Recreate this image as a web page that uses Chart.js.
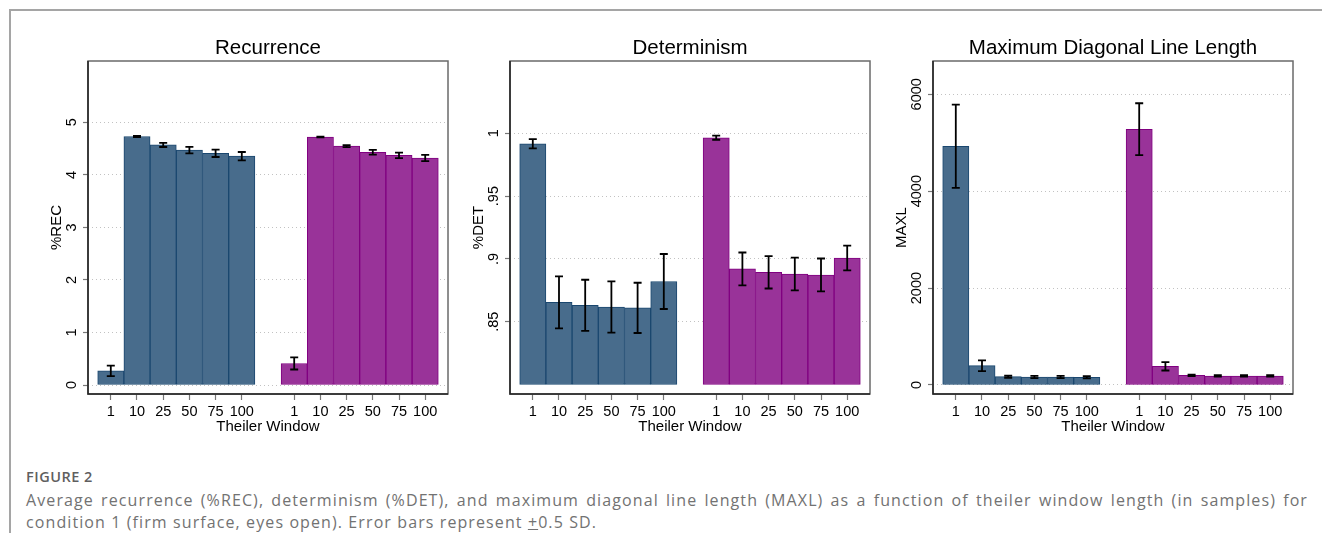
<!DOCTYPE html>
<html lang="en">
<head>
  <meta charset="UTF-8">
  <title>Figure 2 - Theiler window</title>
  <script src="https://cdn.jsdelivr.net/npm/chart.js"></script>
  <style>
    body { margin: 0; width: 1322px; height: 541px; background: #fff; position: relative; overflow: hidden; }
    .frame { position: absolute; left: 9px; top: 9px; width: 1320px; height: 522px;
             border-left: 2px solid #a5a5a5; border-top: 2px solid #a5a5a5; }
    canvas { position: absolute; top: 30px; }
    #recChart { left: 28px; }
    #detChart { left: 450px; }
    #maxlChart { left: 873px; }
    .caption { position: absolute; left: 26px; width: 1282px; font-family: "Open Sans", sans-serif; color: #727272; }
    .fig { top: 468px; font-size: 14.5px; font-weight: 600; color: #5f5f5f; line-height: 18px; letter-spacing: 0.5px; }
    .l1 { top: 489px; font-size: 16px; line-height: 22px; letter-spacing: 1.1px; text-align: justify; text-align-last: justify; white-space: nowrap; }
    .l2 { top: 511px; font-size: 16px; line-height: 22px; letter-spacing: 1.1px; white-space: nowrap; }
  </style>
</head>
<body>
  <div class="frame"></div>
  <canvas id="recChart" width="422" height="410"></canvas>
  <canvas id="detChart" width="422" height="410"></canvas>
  <canvas id="maxlChart" width="422" height="410"></canvas>

  <div class="caption fig">FIGURE 2</div>
  <div class="caption l1">Average recurrence (%REC), determinism (%DET), and maximum diagonal line length (MAXL) as a function of theiler window length (in samples) for</div>
  <div class="caption l2">condition 1 (firm surface, eyes open). Error bars represent <u>+</u>0.5 SD.</div>

  <script>
    // x positions: two groups of six bars with an empty slot between them
    const windowLabels = ['1', '10', '25', '50', '75', '100'];
    const blueSlots = [0, 1, 2, 3, 4, 5];
    const purpleSlots = [7, 8, 9, 10, 11, 12];

    // Recurrence
    const recBlue = [0.27, 4.73, 4.57, 4.47, 4.41, 4.355];
    const recBlueErr = [0.10, 0.01, 0.04, 0.063, 0.07, 0.08];
    const recPurple = [0.41, 4.72, 4.546, 4.43, 4.37, 4.32];
    const recPurpleErr = [0.115, 0.006, 0.02, 0.045, 0.053, 0.06];
    const recTicks = [0, 1, 2, 3, 4, 5];
    const recTickLabels = ['0', '1', '2', '3', '4', '5'];

    // Determinism
    const detBlue = [0.9917, 0.8654, 0.863, 0.8617, 0.861, 0.882];
    const detBlueErr = [0.0037, 0.0207, 0.0204, 0.0204, 0.020, 0.0219];
    const detPurple = [0.9965, 0.892, 0.8893, 0.888, 0.8872, 0.9007];
    const detPurpleErr = [0.0016, 0.0131, 0.0129, 0.013, 0.0131, 0.0098];
    const detTicks = [0.85, 0.9, 0.95, 1];
    const detTickLabels = ['.85', '.9', '.95', '1'];

    // Maximum diagonal line length
    const maxlBlue = [4928, 398, 171, 165, 165, 160];
    const maxlBlueErr = [859, 110, 22, 25, 22, 22];
    const maxlPurple = [5279, 385, 200, 186, 186, 186];
    const maxlPurpleErr = [536, 86, 15, 15, 15, 15];
    const maxlTicks = [0, 2000, 4000, 6000];
    const maxlTickLabels = ['0', '2000', '4000', '6000'];

    const blueFill = 'rgb(72,108,140)', blueLine = 'rgb(26,71,111)';
    const purpleFill = 'rgb(153,51,153)', purpleLine = 'rgb(128,0,128)';
    const FONT = '"Liberation Sans", Arial, sans-serif';

    const panels = {
      recChart: { title: 'Recurrence', yTitle: '%REC', min: -0.171, max: 6.167, base: 0,
                  blue: recBlue, blueErr: recBlueErr, purple: recPurple, purpleErr: recPurpleErr,
                  ticks: recTicks, tickLabels: recTickLabels },
      detChart: { title: 'Determinism', yTitle: '%DET', min: 0.7924, max: 1.0576, base: 0.8,
                  blue: detBlue, blueErr: detBlueErr, purple: detPurple, purpleErr: detPurpleErr,
                  ticks: detTicks, tickLabels: detTickLabels },
      maxlChart: { title: 'Maximum Diagonal Line Length', yTitle: 'MAXL', min: -186, max: 6687, base: 0,
                  blue: maxlBlue, blueErr: maxlBlueErr, purple: maxlPurple, purpleErr: maxlPurpleErr,
                  ticks: maxlTicks, tickLabels: maxlTickLabels }
    };

    // titles, rotated y labels, plot box and error bars
    const decor = {
      id: 'decor',
      afterDraw(chart) {
        const p = panels[chart.canvas.id];
        const { ctx, chartArea: a } = chart;
        const y = chart.scales.y;
        ctx.save();

        ctx.strokeStyle = '#000';
        ctx.lineWidth = 1.8;
        [[p.blue, p.blueErr], [p.purple, p.purpleErr]].forEach(([means, errs], di) => {
          chart.getDatasetMeta(di).data.forEach((bar, i) => {
            const top = y.getPixelForValue(means[i] + errs[i]);
            const bot = y.getPixelForValue(means[i] - errs[i]);
            ctx.beginPath();
            ctx.moveTo(bar.x, top); ctx.lineTo(bar.x, bot);
            ctx.moveTo(bar.x - 4, top); ctx.lineTo(bar.x + 4, top);
            ctx.moveTo(bar.x - 4, bot); ctx.lineTo(bar.x + 4, bot);
            ctx.stroke();
          });
        });

        // plot box
        ctx.lineWidth = 1.5;
        ctx.strokeStyle = '#6a6a6a';
        ctx.strokeRect(a.left, a.top, a.right - a.left, a.bottom - a.top);
        ctx.strokeStyle = '#222';
        ctx.beginPath();
        ctx.moveTo(a.left, a.top); ctx.lineTo(a.left, a.bottom); ctx.lineTo(a.right, a.bottom);
        ctx.stroke();

        ctx.fillStyle = '#000';
        ctx.textAlign = 'center';
        ctx.textBaseline = 'alphabetic';
        ctx.font = '20.5px ' + FONT;
        ctx.fillText(p.title, (a.left + a.right) / 2, a.top - 7.5);

        ctx.font = '14.5px ' + FONT;
        p.ticks.forEach((v, i) => {
          ctx.save();
          ctx.translate(a.left - 12, y.getPixelForValue(v));
          ctx.rotate(-Math.PI / 2);
          ctx.fillText(p.tickLabels[i], 0, 0);
          ctx.restore();
        });

        ctx.font = '15px ' + FONT;
        ctx.translate(a.left - 27.5, (a.top + a.bottom) / 2);
        ctx.rotate(-Math.PI / 2);
        ctx.fillText(p.yTitle, 0, 0);
        ctx.restore();
      }
    };

    function makePanel(id) {
      const p = panels[id];
      const ds = (slots, means, fill, line) => ({
        data: slots.map((x, i) => ({ x: x, y: means[i] })),
        backgroundColor: fill, borderColor: line, borderWidth: 1, borderSkipped: false,
        base: p.base, grouped: false, barPercentage: 1, categoryPercentage: 1
      });
      const tickSlots = blueSlots.concat(purpleSlots);
      const tickText = windowLabels.concat(windowLabels);

      new Chart(document.getElementById(id), {
        type: 'bar',
        data: {
          datasets: [
            ds(blueSlots, p.blue, blueFill, blueLine),
            ds(purpleSlots, p.purple, purpleFill, purpleLine)
          ]
        },
        options: {
          responsive: false,
          animation: false,
          layout: { padding: { top: 31, right: 2, left: 0, bottom: 0 } },
          plugins: { legend: { display: false }, tooltip: { enabled: false } },
          scales: {
            x: {
              type: 'linear', min: -0.87, max: 12.87, offset: false,
              afterBuildTicks: s => { s.ticks = tickSlots.map(v => ({ value: v })); },
              afterFit: s => { s.height = 46; },
              ticks: {
                autoSkip: false, maxRotation: 0, padding: 3, color: '#000',
                font: { family: FONT, size: 14.5 },
                callback: (v, i) => tickText[i]
              },
              grid: { offset: false, drawOnChartArea: false, drawTicks: true, tickLength: 6, tickColor: '#777', tickWidth: 1.2 },
              border: { display: false },
              title: { display: true, text: 'Theiler Window', color: '#000',
                       font: { family: FONT, size: 15 }, padding: { top: 0, bottom: 4 } }
            },
            y: {
              min: p.min, max: p.max,
              afterBuildTicks: s => { s.ticks = p.ticks.map(v => ({ value: v })); },
              afterFit: s => { s.width = 60; },
              ticks: { display: false },
              grid: { color: '#c2c2c2', lineWidth: 1, drawTicks: true, tickLength: 5, tickColor: '#777', tickWidth: 1.2 },
              border: { display: false, dash: [1, 3] }
            }
          }
        },
        plugins: [decor]
      });
    }

    makePanel('recChart');
    makePanel('detChart');
    makePanel('maxlChart');
  </script>
</body>
</html>
